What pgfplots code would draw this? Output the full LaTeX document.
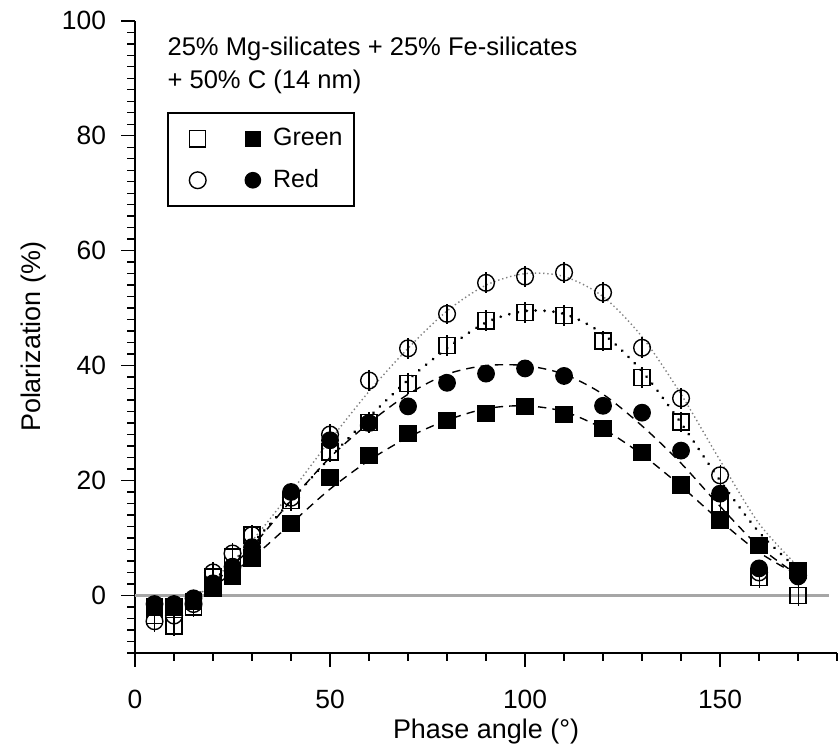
\documentclass[border=0pt]{standalone}
\usepackage{fontspec}
\setmainfont{Liberation Sans}
\usepackage{pgfplots}
\pgfplotsset{compat=1.18}

\begin{document}
\begin{tikzpicture}
\begin{axis}[
  scale only axis, width=252.7pt, height=227.5pt,
  xmin=0, xmax=180, ymin=-10, ymax=100,
  axis lines=left, axis line style={-, line width=0.6pt},
  xtick={0,50,100,150}, minor xtick={10,20,...,180},
  ytick={0,20,...,100}, minor ytick={-10,-8,...,100},
  tick align=outside, major tick length=5pt, minor tick length=2.8pt,
  tick style={black, line width=0.5pt},
  /pgf/number format/assume math mode=true,
  ticklabel style={font=\fontsize{9.5}{11}\selectfont},
  xticklabel style={yshift=-4.7pt},
  yticklabel style={xshift=-1.9pt},
  label style={font=\fontsize{9.7}{11}\selectfont},
  xlabel={Phase angle (°)}, ylabel={Polarization (\%)},
  xlabel style={at={(axis description cs:0.5,0)}, anchor=base, yshift=-31pt},
  ylabel style={at={(axis description cs:0,0.5)}, anchor=center, yshift=36.7pt},
  clip=false,
  legend style={at={(0.0456,0.855)}, anchor=north west, draw=black, line width=0.6pt,
    font=\fontsize{9}{10}\selectfont, row sep=3pt, inner xsep=2pt, inner ysep=3.3pt},
  legend cell align=left,
  error bars/error mark=none,
]
% zero line
\addplot[gray!70, line width=1.2pt, forget plot] coordinates {(0,0) (178,0)};

% fits
\addplot[gray, densely dotted, line width=0.5pt, smooth, forget plot] coordinates {
(15,-1) (20,2.5) (30,9.5) (40,18) (50,27) (60,35.5) (70,43) (80,49.5) (90,54) (100,56)
(110,55.5) (120,52) (130,45) (140,35) (150,23.5) (160,12.5) (170,5)};
\addplot[black, line width=1.1pt, dash pattern=on 0.01pt off 3.2pt, line cap=round, smooth, forget plot] coordinates {
(15,-0.5) (20,2.5) (30,9) (40,16.5) (50,24) (60,31) (70,37.5) (80,43) (90,47.5) (100,49.5)
(110,49) (120,45.5) (130,39) (140,30) (150,20) (160,11) (170,4.5)};
\addplot[black, line width=0.5pt, dash pattern=on 3pt off 2.2pt, smooth, forget plot] coordinates {
(15,-0.5) (20,2) (30,8.5) (40,16.5) (50,24) (60,30) (70,35) (80,38.5) (90,40) (100,40)
(110,38.5) (120,35) (130,29.5) (140,23) (150,15.5) (160,8.5) (170,3.5)};
\addplot[black, line width=0.5pt, dash pattern=on 3pt off 2.2pt, smooth, forget plot] coordinates {
(15,-0.5) (20,1.5) (30,6.5) (40,12.5) (50,18.5) (60,23.5) (70,27.5) (80,30.5) (90,32.5) (100,33)
(110,32) (120,29) (130,24.5) (140,19) (150,13) (160,7.5) (170,3.5)};

% open circles
\addplot[forget plot, only marks, mark=o, mark size=3pt, mark options={black, line width=0.5pt},
  error bars/.cd, y dir=both, y fixed=1.8, error bar style={black, line width=0.4pt}] coordinates {
(5,-4.5) (10,-3.5) (15,-1.5) (20,4.0) (25,7.3) (30,10.5) (40,17) (50,28) (60,37.4) (70,43)
(80,49) (90,54.4) (100,55.5) (110,56.2) (120,52.7) (130,43.1) (140,34.3) (150,20.9) (160,4) (170,3.5)};
% open squares
\addplot[forget plot, only marks, mark=square, mark size=2.9pt, mark options={black, line width=0.5pt},
  error bars/.cd, y dir=both, y fixed=1.8, error bar style={black, line width=0.4pt}] coordinates {
(5,-3.5) (10,-5.3) (15,-2) (20,3.2) (25,6.7) (30,10.5) (40,16.5) (50,25) (60,30.1) (70,36.9)
(80,43.5) (90,47.8) (100,49.2) (110,48.7) (120,44.3) (130,37.9) (140,30.2) (150,16) (160,3.1) (170,0)};
% filled squares
\addplot[forget plot, only marks, mark=square*, mark size=2.9pt, mark options={black},
  error bars/.cd, y dir=both, y fixed=1.5, error bar style={black, line width=0.4pt}] coordinates {
(5,-2) (10,-2) (15,-1) (20,1.2) (25,3.3) (30,6.5) (40,12.5) (50,20.5) (60,24.3) (70,28.2)
(80,30.4) (90,31.6) (100,32.9) (110,31.5) (120,29) (130,24.9) (140,19.2) (150,13) (160,8.7) (170,4.3)};
% filled circles
\addplot[forget plot, only marks, mark=*, mark size=3pt, mark options={black},
  error bars/.cd, y dir=both, y fixed=1.5, error bar style={black, line width=0.4pt}] coordinates {
(5,-1.5) (10,-1.5) (15,-0.5) (20,2.1) (25,5) (30,8.4) (40,18) (50,27) (60,30) (70,32.9)
(80,37) (90,38.6) (100,39.5) (110,38.2) (120,33) (130,31.8) (140,25.2) (150,17.7) (160,4.7) (170,3.3)};

\addlegendimage{legend image code/.code={
  \node[solid, draw=black, line width=0.5pt, fill=white, rectangle, minimum size=5.8pt, inner sep=0pt] at (2.2pt,0) {};
  \node[solid, fill=black, rectangle, minimum size=5.8pt, inner sep=0pt] at (22pt,0) {};
  \path (-3pt,0) (30.3pt,0);}}
\addlegendentry{Green}
\addlegendimage{legend image code/.code={
  \node[solid, draw=black, line width=0.5pt, fill=white, circle, minimum size=6pt, inner sep=0pt] at (2.2pt,0) {};
  \node[solid, fill=black, circle, minimum size=6pt, inner sep=0pt] at (22pt,0) {};
  \path (-3pt,0) (30.3pt,0);}}
\addlegendentry{Red}

\node[anchor=base west, font=\fontsize{9.2}{10}\selectfont, inner sep=0pt] at (axis cs:8.2,93.9) {25\% Mg-silicates + 25\% Fe-silicates};
\node[anchor=base west, font=\fontsize{9.2}{10}\selectfont, inner sep=0pt] at (axis cs:8.2,88.3) {+ 50\% C (14 nm)};

% page margins
\path (axis description cs:0,0) ++(-48.6pt,-34.9pt);
\path (axis description cs:1,1) ++(0.7pt,7.5pt);
\end{axis}
\end{tikzpicture}
\end{document}
